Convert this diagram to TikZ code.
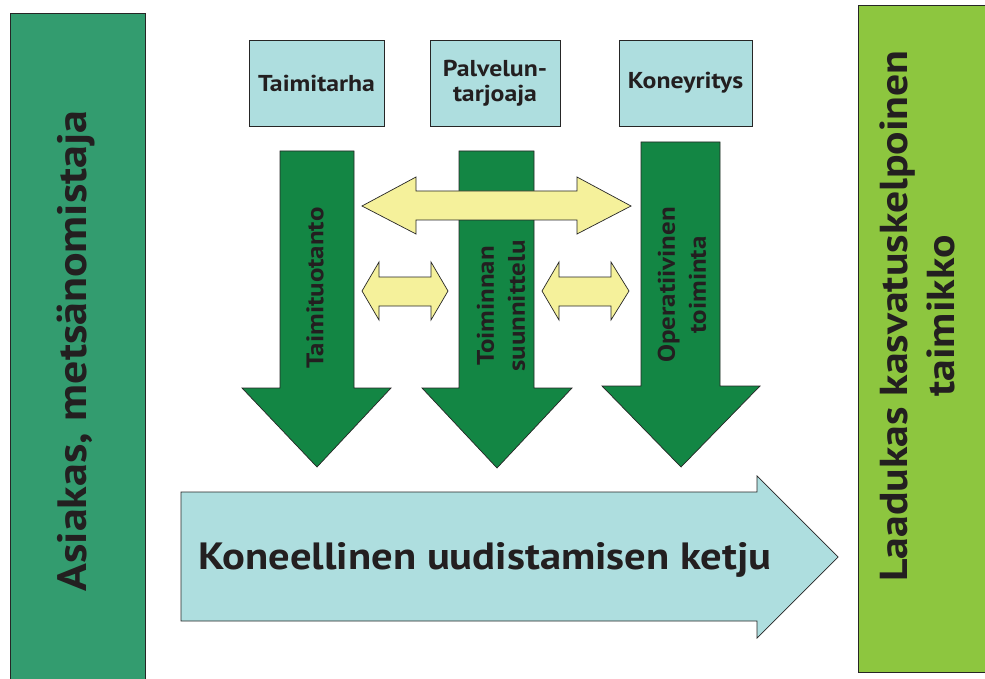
\documentclass[tikz,border=0pt]{standalone}
\usepackage{fontspec}
\setmainfont[FakeStretch=1.12]{PT Sans}
\definecolor{leftgreen}{RGB}{51,156,111}
\definecolor{rightgreen}{RGB}{141,198,63}
\definecolor{darkgreen}{RGB}{19,134,68}
\definecolor{paleyellow}{RGB}{245,241,155}
\definecolor{paleblue}{RGB}{174,222,223}
\definecolor{txt}{RGB}{35,31,32}
\begin{document}
\begin{tikzpicture}[x=1pt,y=-1pt,line join=miter]
\tikzset{
  edge/.style={draw=black!85,line width=0.7pt},
  topbox/.style={edge,fill=paleblue,inner sep=0pt,align=center,text=txt,
    font=\bfseries\fontsize{23}{25}\selectfont},
  vlabel/.style={rotate=90,align=center,text=txt,inner sep=0pt},
  bigtext/.style={text=txt,font=\bfseries\fontsize{39}{47}\selectfont,inner sep=0pt},
  midtext/.style={text=txt,font=\bfseries\fontsize{24}{31}\selectfont}
}
\useasboundingbox (0,0) rectangle (985,679);
\fill[white] (0,0) rectangle (985,679);
% side panels
\path[edge,fill=leftgreen] (10,13) rectangle (145,700);
\path[edge,fill=rightgreen] (858,5) rectangle (1000,672);
\node[vlabel,bigtext,font=\bfseries\fontsize{41}{47}\selectfont] (asiakas) at (76,351) {Asiakas, metsänomistaja};
\node[vlabel,bigtext] (laadukas) at (917,316) {Laadukas kasvatuskelpoinen\\taimikko};
% top boxes
\node[topbox,minimum width=135pt,minimum height=86pt] (taimitarha) at (316.5,83) {Taimitarha};
\node[topbox,minimum width=130pt,minimum height=86pt] (palvelu) at (495,83) {Palvelun-\\tarjoaja};
\node[topbox,minimum width=133pt,minimum height=86pt] (koneyritys) at (685.5,83) {Koneyritys};
% green down arrows
\path[edge,fill=darkgreen] (280,151) -- (354,151) -- (354,388) -- (391,388) -- (317,467) -- (242,388) -- (280,388) -- cycle;
\path[edge,fill=darkgreen] (459,151) -- (534,151) -- (534,388) -- (572,388) -- (497,468) -- (422,388) -- (459,388) -- cycle;
% big yellow double arrow
\path[edge,fill=paleyellow] (362,206) -- (416,177) -- (416,191) -- (577,191) -- (577,177) -- (631,206) -- (577,234) -- (577,220) -- (416,220) -- (416,234) -- cycle;
\path[edge,fill=darkgreen] (641,142) -- (720,142) -- (720,386) -- (760,386) -- (681,467) -- (602,386) -- (641,386) -- cycle;
% small yellow double arrows
\path[edge,fill=paleyellow] (362,291) -- (379,262) -- (379,277) -- (431,277) -- (431,262) -- (448,291) -- (431,320) -- (431,306) -- (379,306) -- (379,320) -- cycle;
\path[edge,fill=paleyellow] (542,291) -- (559,262) -- (559,277) -- (611,277) -- (611,262) -- (629,291) -- (611,320) -- (611,306) -- (559,306) -- (559,320) -- cycle;
% labels in green arrows
\node[vlabel,midtext] (taimituotanto) at (315,288) {Taimituotanto};
\node[vlabel,midtext] (toiminnan) at (501,306) {Toiminnan\\suunnittelu};
\node[vlabel,midtext] (operatiivinen) at (682,285) {Operatiivinen\\toiminta};
% big blue arrow
\path[edge,fill=paleblue] (181,492) -- (757,492) -- (757,476) -- (838,557) -- (757,638) -- (757,621) -- (181,621) -- cycle;
\node[bigtext,font=\bfseries\fontsize{38}{47}\selectfont] (ketju) at (485,560) {Koneellinen uudistamisen ketju};
\end{tikzpicture}
\end{document}
